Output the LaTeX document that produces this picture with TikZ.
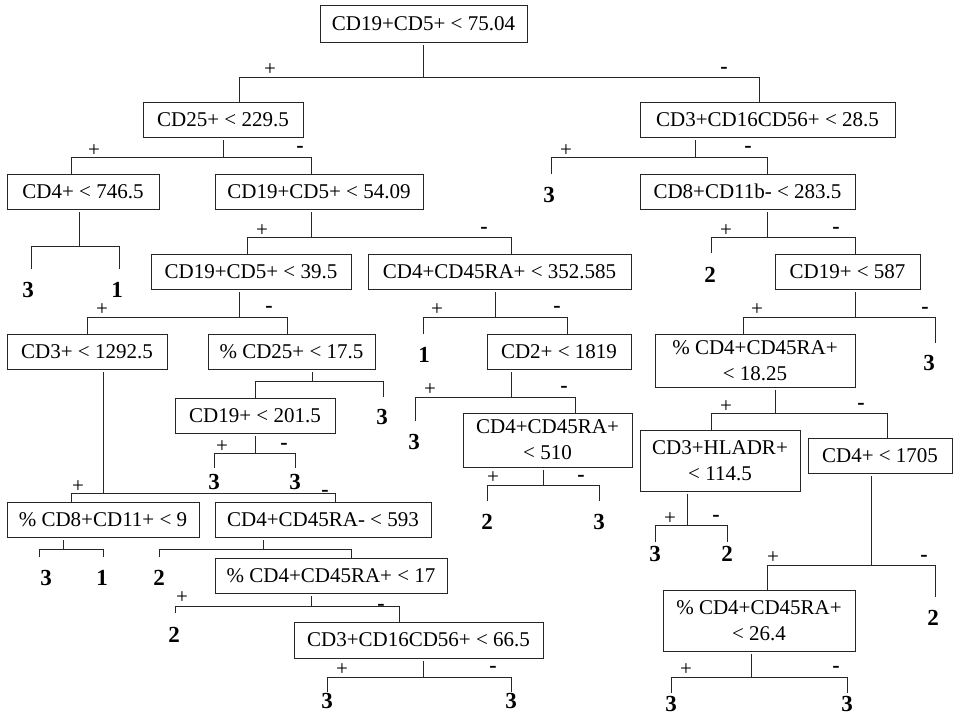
\documentclass[tikz,border=0pt]{standalone}
\usepackage{fontspec}
\setmainfont{Liberation Serif}
\newcommand\mystem[3]{\coordinate (#1-s) at (#2,#3); \draw[conn] (#1.south -| #1-s) ++(0,3) -- (#1-s);}
\newcommand\mybar[7][]{\coordinate (#2-l) at (#4,#3); \coordinate (#2-r) at (#5,#3);
  \draw[conn,#1] (#6 -| #2-l) -- (#2-l) -- (#2-r) -- (#7 -| #2-r);}
\begin{document}
\begin{tikzpicture}[x=1pt,y=-1pt,
  box/.style={draw=black!85, line width=0.8pt, inner sep=0pt, align=center,
    font=\fontsize{21}{26}\selectfont},
  leaf/.style={inner sep=0pt, font=\fontsize{23}{23}\selectfont\bfseries},
  pl/.style={inner sep=0pt, font=\fontsize{21}{21}\selectfont},
  mi/.style={inner sep=0pt, font=\fontsize{22}{22}\selectfont\bfseries},
  conn/.style={draw=black!85, line width=0.8pt}]
\useasboundingbox[fill=white] (0,0) rectangle (958,717);

% ---- boxes
\node[box,minimum width=207pt,minimum height=37pt] (root) at (423.5,23.5) {CD19+CD5+ < 75.04};
\node[box,minimum width=160pt,minimum height=35pt] (n25) at (223,119.5) {CD25+ < 229.5};
\node[box,minimum width=255pt,minimum height=35pt] (n3cd16) at (767.5,119.5) {CD3+CD16CD56+ < 28.5};
\node[box,minimum width=152pt,minimum height=35pt] (n4a) at (83,191.5) {CD4+ < 746.5};
\node[box,minimum width=208pt,minimum height=35pt] (n19b) at (319,191.5) {CD19+CD5+ < 54.09};
\node[box,minimum width=215pt,minimum height=35pt] (n8) at (747.5,191.5) {CD8+CD11b- < 283.5};
\node[box,minimum width=200pt,minimum height=35pt] (n19c) at (251,271.5) {CD19+CD5+ < 39.5};
\node[box,minimum width=263pt,minimum height=35pt] (n4b) at (499.5,271.5) {CD4+CD45RA+ < 352.585};
\node[box,minimum width=145pt,minimum height=35pt] (n19d) at (847.5,271.5) {CD19+ < 587};
\node[box,minimum width=160pt,minimum height=35pt] (n3a) at (87,351.5) {CD3+ < 1292.5};
\node[box,minimum width=167pt,minimum height=35pt] (n25b) at (291.5,351.5) {\% CD25+ < 17.5};
\node[box,minimum width=144pt,minimum height=35pt] (n2) at (559,351.5) {CD2+ < 1819};
\node[box,minimum width=200pt,minimum height=53pt] (n4c) at (755,360.5) {\% CD4+CD45RA+\\< 18.25};
\node[box,minimum width=160pt,minimum height=35pt] (n19e) at (255,415.5) {CD19+ < 201.5};
\node[box,minimum width=169pt,minimum height=54pt] (n4d) at (547.5,440) {CD4+CD45RA+\\< 510};
\node[box,minimum width=160pt,minimum height=61pt] (n3h) at (720,460.5) {CD3+HLADR+\\< 114.5};
\node[box,minimum width=144pt,minimum height=35pt] (n4e) at (880,455.5) {CD4+ < 1705};
\node[box,minimum width=192pt,minimum height=35pt] (n8b) at (103,519.5) {\% CD8+CD11+ < 9};
\node[box,minimum width=216pt,minimum height=35pt] (n4f) at (323,519.5) {CD4+CD45RA- < 593};
\node[box,minimum width=232pt,minimum height=35pt] (n4g) at (331,575.5) {\% CD4+CD45RA+ < 17};
\node[box,minimum width=192pt,minimum height=61pt] (n4h) at (759,620.5) {\% CD4+CD45RA+\\< 26.4};
\node[box,minimum width=249pt,minimum height=36pt] (n3c) at (418.5,640) {CD3+CD16CD56+ < 66.5};

% ---- leaves
\node[leaf] (L3a) at (549,195) {3};
\node[leaf] (L4a) at (28,290) {3};
\node[leaf] (L4b) at (117,290) {1};
\node[leaf] (L6a) at (710,275) {2};
\node[leaf] (L8a) at (424,355) {1};
\node[leaf] (L9b) at (929,363) {3};
\node[leaf] (L11b) at (382,417) {3};
\node[leaf] (L12a) at (414,442) {3};
\node[leaf] (L14a) at (214,482) {3};
\node[leaf] (L14b) at (295,482) {3};
\node[leaf] (L15a) at (487,522) {2};
\node[leaf] (L15b) at (599,522) {3};
\node[leaf] (L16a) at (655,554) {3};
\node[leaf] (L16b) at (727,554) {2};
\node[leaf] (L17b) at (933,618) {2};
\node[leaf] (L18a) at (46,578) {3};
\node[leaf] (L18b) at (102,578) {1};
\node[leaf] (L19a) at (159,578) {2};
\node[leaf] (L20a) at (174,635) {2};
\node[leaf] (L21a) at (327,701) {3};
\node[leaf] (L21b) at (511,701) {3};
\node[leaf] (L22a) at (671,704) {3};
\node[leaf] (L22b) at (847,704) {3};

% ---- splits
\mystem{root}{423}{77}
\mybar{root}{77}{239}{759}{n25.north}{n3cd16.north}
\mystem{n25}{223}{157}
\mybar{n25}{157}{71}{311}{n4a.north}{n19b.north}
\mystem{n3cd16}{695}{157}
\mybar[shorten <=13pt]{n3cd16}{157}{551}{767}{L3a.north}{n8.north}
\mystem{n4a}{79}{246}
\mybar[shorten <=13pt,shorten >=13pt]{n4a}{246}{31}{119}{L4a.north}{L4b.north}
\mystem{n19b}{311}{237}
\mybar{n19b}{237}{247}{511}{n19c.north}{n4b.north}
\mystem{n8}{767}{237}
\mybar[shorten <=14pt]{n8}{237}{711}{855}{L6a.north}{n19d.north}
\mystem{n19c}{239}{317}
\mybar{n19c}{317}{87}{287}{n3a.north}{n25b.north}
\mystem{n4b}{495}{317}
\mybar[shorten <=13pt]{n4b}{317}{423}{567}{L8a.north}{n2.north}
\mystem{n19d}{855}{317}
\mybar[shorten >=12pt]{n19d}{317}{743}{935}{n4c.north}{L9b.north}
\mystem{n3a}{103}{493}
\mybar{n3a}{493}{71}{335}{n8b.north}{n4f.north}
\mystem{n25b}{312}{381}
\mybar[shorten >=12pt]{n25b}{381}{255}{383}{n19e.north}{L11b.north}
\mystem{n2}{511}{397}
\mybar[shorten <=13pt]{n2}{397}{415}{575}{L12a.north}{n4d.north}
\mystem{n4c}{775}{413}
\mybar{n4c}{413}{711}{887}{n3h.north}{n4e.north}
\mystem{n19e}{255}{453}
\mybar[shorten <=6.5pt,shorten >=6.5pt]{n19e}{453}{214}{295}{L14a.north}{L14b.north}
\mystem{n4d}{543}{485}
\mybar[shorten <=13pt,shorten >=13pt]{n4d}{485}{487}{599}{L15a.north}{L15b.north}
\mystem{n3h}{687}{525}
\mybar[shorten <=4pt,shorten >=4pt]{n3h}{525}{655}{727}{L16a.north}{L16b.north}
\mystem{n4e}{871}{565}
\mybar[shorten >=13pt]{n4e}{565}{767}{935}{n4h.north}{L17b.north}
\mystem{n8b}{63}{549}
\mybar[shorten <=13pt,shorten >=13pt]{n8b}{549}{39}{103}{L18a.north}{L18b.north}
\mystem{n4f}{263}{549}
\mybar[shorten <=13pt]{n4f}{549}{159}{351}{L19a.north}{n4g.north}
\mystem{n4g}{311}{606}
\mybar[shorten <=14pt]{n4g}{606}{175}{399}{L20a.north}{n3c.north}
\mystem{n3c}{423}{677}
\mybar[shorten <=1pt,shorten >=1pt]{n3c}{677}{327}{511}{L21a.north}{L21b.north}
\mystem{n4h}{751}{677}
\mybar[shorten <=3pt,shorten >=3pt]{n4h}{677}{671}{847}{L22a.north}{L22b.north}

% ---- branch labels
\node[pl] (p1) at (270,70) {+};   \node[mi] (m1) at (724,70) {-};
\node[pl] (p2) at (94,151) {+};   \node[mi] (m2) at (300,149) {-};
\node[pl] (p3) at (566,151) {+};  \node[mi] (m3) at (748,149) {-};
\node[pl] (p5) at (262,231) {+};  \node[mi] (m5) at (484,230) {-};
\node[pl] (p6) at (726,231) {+};  \node[mi] (m6) at (836,230) {-};
\node[pl] (p7) at (102,310) {+};  \node[mi] (m7) at (269,309) {-};
\node[pl] (p8) at (437,310) {+};  \node[mi] (m8) at (557,309) {-};
\node[pl] (p9) at (757,310) {+};  \node[mi] (m9) at (925,310) {-};
\node[pl] (p10) at (78,487) {+};  \node[mi] (m10) at (325,493) {-};
\node[pl] (p12) at (430,390) {+}; \node[mi] (m12) at (564,389) {-};
\node[pl] (p13) at (726,407) {+}; \node[mi] (m13) at (861,406) {-};
\node[pl] (p14) at (222,447) {+}; \node[mi] (m14) at (284,446) {-};
\node[pl] (p15) at (493,478) {+}; \node[mi] (m15) at (581,478) {-};
\node[pl] (p16) at (670,519) {+}; \node[mi] (m16) at (716,518) {-};
\node[pl] (p17) at (773,558) {+}; \node[mi] (m17) at (924,558) {-};
\node[pl] (p20) at (182,598) {+}; \node[mi] (m20) at (381,607) {-};
\node[pl] (p21) at (342,670) {+}; \node[mi] (m21) at (493,669) {-};
\node[pl] (p22) at (686,670) {+}; \node[mi] (m22) at (836,669) {-};
\end{tikzpicture}
\end{document}
